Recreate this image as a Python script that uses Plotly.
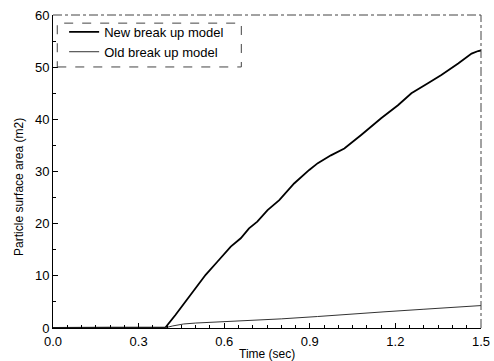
import plotly.graph_objects as go

# Data
t_new = [0.0, 0.2, 0.38, 0.394, 0.429, 0.482, 0.535, 0.576, 0.623, 0.658, 0.687, 0.716,
         0.752, 0.793, 0.845, 0.898, 0.928, 0.974, 1.021, 1.080, 1.150, 1.209, 1.256,
         1.314, 1.361, 1.420, 1.467, 1.490, 1.5]
v_new = [0.0, 0.0, 0.0, 0.1, 2.5, 6.3, 10.2, 12.7, 15.6, 17.2, 19.1, 20.4,
         22.6, 24.5, 27.7, 30.3, 31.6, 33.1, 34.4, 37.0, 40.2, 42.7, 45.0,
         46.9, 48.5, 50.7, 52.6, 53.1, 53.2]
t_old = [0.0, 0.2, 0.39, 0.42, 0.458, 0.5, 0.6, 0.693, 0.8, 0.927, 1.05, 1.16, 1.3, 1.4, 1.49, 1.5]
v_old = [0.0, 0.0, 0.0, 0.4, 0.77, 0.95, 1.2, 1.4, 1.75, 2.2, 2.6, 3.1, 3.6, 3.95, 4.3, 4.3]

x_title = "Time (sec)"
y_title = "Particle surface area (m2)"

fig = go.Figure()
fig.add_trace(go.Scatter(x=t_new, y=v_new, mode="lines", name="New break up model",
                         line=dict(color="black", width=1.8)))
fig.add_trace(go.Scatter(x=t_old, y=v_old, mode="lines", name="Old break up model",
                         line=dict(color="#333333", width=1.0)))

font = "Liberation Sans, Arial, sans-serif"
fig.update_layout(
    width=494, height=361,
    margin=dict(l=53, r=13, t=15, b=33, autoexpand=False),
    paper_bgcolor="white", plot_bgcolor="white",
    font=dict(family=font, color="black", size=13),
    showlegend=True,
    legend=dict(x=0.026, y=0.994, xanchor="left", yanchor="top",
                bgcolor="rgba(0,0,0,0)", borderwidth=0,
                font=dict(size=13, family=font), tracegroupgap=0),
    xaxis=dict(range=[0, 1.5], tickvals=[0, 0.3, 0.6, 0.9, 1.2, 1.5], tickformat=".1f",
               ticks="inside", ticklen=5, tickcolor="black", automargin=False,
               ticklabelstandoff=1,
               minor=dict(dtick=0.05, ticks="inside", ticklen=3, tickcolor="black"),
               showgrid=False, zeroline=False, showline=True, linecolor="black", linewidth=1,
               tickfont=dict(size=13)),
    yaxis=dict(range=[0, 60], dtick=10, ticks="inside", ticklen=5, tickcolor="black",
               automargin=False,
               minor=dict(dtick=5, ticks="inside", ticklen=3, tickcolor="black"),
               showgrid=False, zeroline=False, showline=True, linecolor="black", linewidth=1,
               tickfont=dict(size=13)),
    annotations=[
        dict(text=x_title, xref="paper", yref="paper", x=0.5, y=-0.055, xanchor="center",
             yanchor="top", showarrow=False, font=dict(size=12)),
        dict(text=y_title, xref="paper", yref="paper", x=-0.080, y=0.45, xanchor="center",
             yanchor="middle", textangle=-90, showarrow=False, font=dict(size=12)),
    ],
    shapes=[
        dict(type="line", xref="paper", yref="paper", x0=0, x1=1, y0=1, y1=1,
             line=dict(color="#444444", width=1, dash="dashdot")),
        dict(type="line", xref="paper", yref="paper", x0=1, x1=1, y0=0, y1=1,
             line=dict(color="#444444", width=1, dash="dashdot")),
        dict(type="rect", xref="paper", yref="paper", x0=0.01, x1=0.44, y0=0.834, y1=0.974,
             line=dict(color="#444444", width=1, dash="dash")),
    ],
)

fig.write_html("out.html")
